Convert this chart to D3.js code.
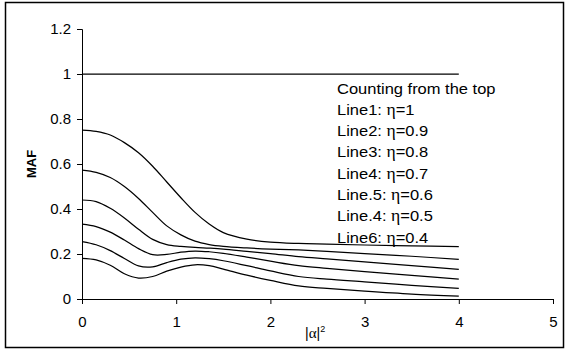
<!DOCTYPE html>
<html>
<head>
<meta charset="utf-8">
<script src="https://d3js.org/d3.v7.min.js"></script>
<style>
  body { margin:0; background:#fff; }
  text { font-family:"Liberation Sans", Arial, sans-serif; fill:#000; }
</style>
</head>
<body>
<svg id="plot"></svg>
<script>

// x values (|alpha|^2) shared by all curves
var xs = [0,0.15,0.3,0.45,0.6,0.75,0.9,1.05,1.2,1.35,1.5,1.75,2,2.3,2.6,3,3.5,4];

// MAF for each eta, counting from the top
var eta10 = [1,1,1,1,1,1,1,1,1,1,1,1,1,1,1,1,1,1];
var eta09 = [0.751,0.745,0.729,0.695,0.65,0.59,0.52,0.45,0.385,0.333,0.295,0.266,0.253,0.247,0.244,0.240,0.236,0.233];
var eta08 = [0.573,0.563,0.54,0.50,0.447,0.385,0.325,0.285,0.257,0.242,0.234,0.227,0.222,0.218,0.212,0.202,0.19,0.176];
var eta07 = [0.44,0.433,0.403,0.36,0.31,0.265,0.242,0.234,0.229,0.226,0.222,0.212,0.202,0.188,0.178,0.165,0.148,0.132];
var eta06 = [0.333,0.322,0.297,0.262,0.224,0.197,0.198,0.208,0.213,0.21,0.203,0.186,0.168,0.148,0.136,0.122,0.105,0.088];
var eta05 = [0.255,0.241,0.215,0.18,0.147,0.143,0.162,0.177,0.183,0.179,0.17,0.148,0.125,0.1,0.088,0.076,0.061,0.047];
var eta04 = [0.181,0.174,0.15,0.112,0.093,0.1,0.124,0.142,0.152,0.148,0.133,0.106,0.083,0.058,0.047,0.035,0.022,0.013];

var xTicks = [0,1,2,3,4,5];
var yTicks = [0,0.2,0.4,0.6,0.8,1,1.2];

var legendLines = ["Counting from the top",
    ["Line1: ","=1"],["Line2: ","=0.9"],["Line3: ","=0.8"],["Line4: ","=0.7"],
    ["Line.5: ","=0.6"],["Line.4: ","=0.5"],["Line6: ","=0.4"]];

var screen = {width:565, height:350};
var margins = {top:29, bottom:51, left:82, right:12};
var graph = {
    width:screen.width-margins.left-margins.right,
    height:screen.height-margins.top-margins.bottom
};

var svg = d3.select("#plot")
    .attr("width",screen.width)
    .attr("height",screen.height);

// outer frame
svg.append("rect")
    .attr("x",5.5).attr("y",2.5)
    .attr("width",558).attr("height",345)
    .attr("fill","none")
    .attr("stroke","#000")
    .attr("stroke-width",1.5);

var xScale = d3.scaleLinear().domain([0,5]).range([0,graph.width]);
var yScale = d3.scaleLinear().domain([0,1.2]).range([graph.height,0]);

var g = svg.append("g")
    .attr("transform","translate("+margins.left+","+margins.top+")");

//axes
var xAxis = d3.axisBottom(xScale).tickValues(xTicks).tickSize(5).tickPadding(12)
    .tickFormat(d3.format("d"));
var yAxis = d3.axisLeft(yScale).tickValues(yTicks).tickSize(5).tickPadding(6)
    .tickFormat(function(d){ return String(+d.toFixed(1)); });

var gx = g.append("g")
    .attr("transform","translate(0,"+graph.height+")")
    .call(xAxis);
var gy = g.append("g").call(yAxis);

[gx,gy].forEach(function(a){
    a.attr("font-size",15)
     .attr("font-family","Liberation Sans, Arial, sans-serif");
    a.select(".domain").attr("stroke","#000").attr("stroke-width",1);
    a.selectAll(".tick line").attr("stroke","#000");
    a.selectAll(".tick text").attr("fill","#000");
});

//lines
var series = [eta10,eta09,eta08,eta07,eta06,eta05,eta04];
var line = d3.line()
    .x(function(d,i){ return xScale(xs[i]); })
    .y(function(d){ return yScale(d); })
    .curve(d3.curveCatmullRom.alpha(0.5));

g.selectAll("path.curve")
    .data(series)
    .enter()
    .append("path")
    .classed("curve",true)
    .attr("d",line)
    .attr("fill","none")
    .attr("stroke","#000")
    .attr("stroke-width",1.25);

//axis labels
svg.append("text")
    .attr("transform","translate(35.5,164) rotate(-90)")
    .attr("text-anchor","middle")
    .attr("font-weight","bold")
    .attr("font-size",13)
    .text("MAF");

var xl = svg.append("text")
    .attr("x",305).attr("y",338)
    .attr("font-size",14);
xl.append("tspan").text("|");
xl.append("tspan").attr("font-family","Liberation Serif, serif").attr("font-size",15).text("α");
xl.append("tspan").text("|");
xl.append("tspan").attr("dy",-6).attr("font-size",9).text("2");

//legend text
var legend = svg.append("g").attr("transform","translate(337,93.5) scale(1.1,1)");
legendLines.forEach(function(l,i){
    var t = legend.append("text")
        .attr("y",i*21.3)
        .attr("font-size",15);
    if (typeof l === "string") { t.text(l); return; }
    t.append("tspan").text(l[0]);
    t.append("tspan").attr("font-family","Liberation Serif, serif").attr("font-size",16).text("η");
    t.append("tspan").text(l[1]);
});

</script>
</body>
</html>
